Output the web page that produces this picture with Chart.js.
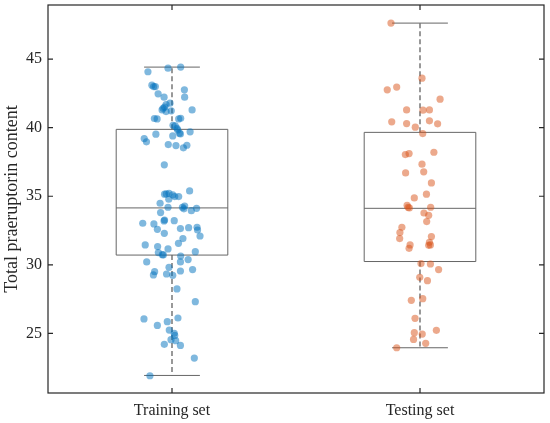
<!DOCTYPE html>
<html>
<head>
<meta charset="utf-8">
<script src="https://cdn.jsdelivr.net/npm/chart.js@4.4.1/dist/chart.umd.min.js"></script>
<style>
  html, body { margin: 0; padding: 0; background: #fff; }
  #wrap { width: 550px; height: 423px; }
</style>
</head>
<body>
<div id="wrap"><canvas id="boxChart"></canvas></div>
<script>
// groups and axis ticks
const categories = ["Training set", "Testing set"];
const yTicks = [25, 30, 35, 40, 45];

// box statistics per group
const whiskerLow = [21.93, 23.95];
const q1 = [30.71, 30.24];
const median = [34.15, 34.12];
const q3 = [39.88, 39.66];
const whiskerHigh = [44.42, 47.63];

// jittered samples, training set
const trainX = [0.984, 1.035, 0.903, 0.919, 0.926, 0.933, 1.050, 0.944, 1.051, 0.968,
  0.992, 0.976, 1.081, 0.964, 0.970, 0.976, 0.960, 0.997, 0.929, 0.940,
  1.027, 1.035, 1.004, 1.013, 1.020, 1.023, 1.030, 1.003, 1.034, 1.073,
  0.888, 0.897, 0.935, 0.985, 1.016, 1.046, 1.060, 0.969, 0.977, 0.988,
  1.003, 1.011, 1.027, 0.970, 0.987, 1.071, 0.952, 0.984, 1.042, 1.051,
  1.048, 1.078, 1.099, 0.954, 0.970, 0.968, 1.009, 0.882, 0.927, 1.034,
  1.067, 1.101, 1.103, 1.113, 0.941, 0.969, 1.044, 1.026, 0.892, 0.942,
  0.984, 0.945, 0.961, 0.965, 1.094, 1.035, 1.065, 0.898, 1.034, 0.988,
  0.930, 0.925, 0.978, 1.003, 1.034, 1.083, 1.020, 1.094, 0.887, 0.941,
  0.981, 1.024, 0.989, 1.009, 1.011, 0.996, 1.015, 0.969, 1.034, 1.090, 0.911];
const trainY = [44.34, 44.42, 44.08, 43.10, 43.00, 43.00, 42.76, 42.47, 42.23, 42.23,
  41.79, 41.69, 41.30, 41.42, 41.50, 41.18, 41.30, 41.23, 40.67, 40.64,
  40.64, 40.69, 40.18, 40.13, 39.96, 39.84, 39.60, 39.40, 39.55, 39.70,
  39.21, 38.97, 39.53, 38.77, 38.70, 38.53, 38.72, 37.29, 35.17, 35.22,
  35.10, 34.98, 34.98, 35.15, 34.78, 35.39, 34.49, 34.20, 34.20, 34.29,
  34.08, 33.95, 34.12, 33.81, 33.27, 33.20, 33.22, 33.03, 32.98, 32.64,
  32.71, 32.74, 32.54, 32.10, 32.59, 32.30, 31.91, 31.57, 31.45, 31.33,
  31.16, 30.89, 30.74, 30.72, 30.96, 30.64, 30.38, 30.21, 30.21, 29.82,
  29.50, 29.26, 29.33, 29.23, 29.55, 29.65, 28.24, 27.31, 26.05, 25.58,
  25.85, 26.12, 25.24, 25.00, 24.85, 24.54, 24.47, 24.20, 24.12, 23.20, 21.91];

// jittered samples, testing set
const testX = [1.883, 2.008, 1.868, 1.906, 2.081, 1.946, 2.012, 2.038, 1.886, 1.946,
  2.038, 2.071, 1.981, 2.011, 1.941, 1.956, 2.056, 2.008, 1.942, 2.015,
  2.046, 2.026, 1.977, 1.948, 1.952, 1.957, 2.043, 2.016, 2.035, 2.027,
  1.927, 1.919, 1.918, 2.046, 2.038, 2.035, 1.960, 1.956, 2.042, 2.004,
  2.042, 2.075, 1.999, 2.030, 1.965, 2.011, 1.980, 2.066, 1.977, 2.009,
  1.974, 2.023, 1.906];
const testY = [47.63, 43.61, 42.76, 42.96, 42.08, 41.30, 41.28, 41.30, 40.43, 40.30,
  40.50, 40.28, 40.04, 39.57, 38.04, 38.11, 38.21, 37.34, 36.70, 36.78,
  35.97, 35.15, 34.88, 34.34, 34.20, 34.15, 34.20, 33.78, 33.61, 33.15,
  32.74, 32.35, 31.91, 32.06, 31.64, 31.42, 31.45, 31.20, 31.45, 30.09,
  30.06, 29.65, 29.09, 28.84, 27.41, 27.53, 26.10, 25.22, 25.05, 24.95,
  24.56, 24.27, 23.95];

const toPoints = (xs, ys) => xs.map((v, i) => ({ x: v, y: ys[i] }));

const BOX_W = 0.45;
const CAP_W = 0.225;
const TICK_LEN = 5;

const boxPlugin = {
  id: "boxes",
  beforeDatasetsDraw(chart) {
    const { ctx, scales: { x, y } } = chart;
    ctx.save();
    categories.forEach((c, i) => {
      const pos = i + 1;
      const cx = x.getPixelForValue(pos);
      const l = x.getPixelForValue(pos - BOX_W / 2);
      const r = x.getPixelForValue(pos + BOX_W / 2);
      const cl = x.getPixelForValue(pos - CAP_W / 2);
      const cr = x.getPixelForValue(pos + CAP_W / 2);
      const yLo = y.getPixelForValue(whiskerLow[i]);
      const yQ1 = y.getPixelForValue(q1[i]);
      const yMed = y.getPixelForValue(median[i]);
      const yQ3 = y.getPixelForValue(q3[i]);
      const yHi = y.getPixelForValue(whiskerHigh[i]);

      // dashed whiskers
      ctx.strokeStyle = "#555";
      ctx.lineWidth = 1.2;
      ctx.setLineDash([5, 3]);
      ctx.beginPath();
      ctx.moveTo(cx, yQ3); ctx.lineTo(cx, yHi);
      ctx.moveTo(cx, yQ1); ctx.lineTo(cx, yLo);
      ctx.stroke();
      ctx.setLineDash([]);

      // caps, box, median
      ctx.strokeStyle = "#666";
      ctx.lineWidth = 1;
      ctx.beginPath();
      ctx.moveTo(cl, yHi); ctx.lineTo(cr, yHi);
      ctx.moveTo(cl, yLo); ctx.lineTo(cr, yLo);
      ctx.moveTo(l, yMed); ctx.lineTo(r, yMed);
      ctx.rect(l, yQ3, r - l, yQ1 - yQ3);
      ctx.stroke();
    });
    ctx.restore();
  },
  afterDraw(chart) {
    // MATLAB style frame with inward ticks
    const { ctx, chartArea: a, scales: { x, y } } = chart;
    ctx.save();
    ctx.strokeStyle = "#262626";
    ctx.lineWidth = 1.2;
    ctx.strokeRect(a.left, a.top, a.right - a.left, a.bottom - a.top);
    ctx.beginPath();
    y.ticks.forEach(t => {
      const py = y.getPixelForValue(t.value);
      ctx.moveTo(a.left, py); ctx.lineTo(a.left + TICK_LEN, py);
      ctx.moveTo(a.right, py); ctx.lineTo(a.right - TICK_LEN, py);
    });
    x.ticks.forEach(t => {
      const px = x.getPixelForValue(t.value);
      ctx.moveTo(px, a.bottom); ctx.lineTo(px, a.bottom - TICK_LEN);
      ctx.moveTo(px, a.top); ctx.lineTo(px, a.top + TICK_LEN);
    });
    ctx.stroke();
    ctx.restore();
  }
};

const tickFont = { family: "'Liberation Serif', 'Times New Roman', serif", size: 16 };

new Chart(document.getElementById("boxChart"), {
  type: "scatter",
  data: {
    datasets: [
      {
        label: categories[0],
        data: toPoints(trainX, trainY),
        backgroundColor: "rgba(0,114,189,0.5)",
        borderWidth: 0,
        pointRadius: 3.6,
      },
      {
        label: categories[1],
        data: toPoints(testX, testY),
        backgroundColor: "rgba(217,83,25,0.5)",
        borderWidth: 0,
        pointRadius: 3.6,
      },
    ],
  },
  options: {
    responsive: true,
    maintainAspectRatio: false,
    animation: false,
    layout: { padding: { top: 5, right: 6, left: 0, bottom: 0 } },
    plugins: {
      legend: { display: false },
      tooltip: { enabled: false },
    },
    scales: {
      x: {
        type: "linear",
        min: 0.5,
        max: 2.5,
        grid: { display: false, drawTicks: false },
        border: { display: false },
        afterBuildTicks: s => { s.ticks = categories.map((c, i) => ({ value: i + 1 })); },
        afterFit: s => { s.height = 30; s.paddingLeft = 0; s.paddingRight = 0; },
        ticks: {
          padding: 8,
          color: "#262626",
          font: tickFont,
          callback: v => categories[v - 1],
        },
      },
      y: {
        min: 20.65,
        max: 48.95,
        grid: { display: false, drawTicks: false },
        border: { display: false },
        afterBuildTicks: s => { s.ticks = yTicks.map(v => ({ value: v })); },
        afterFit: s => { s.width = 48; s.paddingTop = 0; s.paddingBottom = 0; },
        ticks: { padding: 6, color: "#262626", font: tickFont },
        title: {
          display: true,
          text: "Total praeruptorin content",
          color: "#262626",
          font: { family: tickFont.family, size: 18 },
          padding: { top: 1, bottom: 0 },
        },
      },
    },
  },
  plugins: [boxPlugin],
});
</script>
</body>
</html>
